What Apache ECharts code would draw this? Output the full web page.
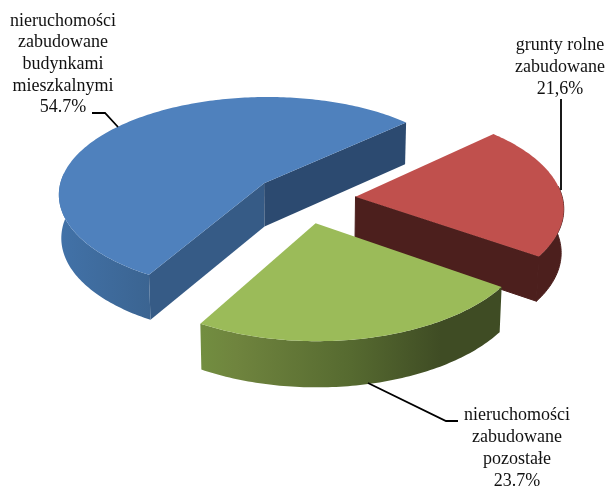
<!DOCTYPE html>
<html>
<head>
<meta charset="utf-8">
<style>html,body{margin:0;padding:0;background:#fff}#c{width:608px;height:486px}</style>
<script src="https://cdn.jsdelivr.net/npm/echarts@6/dist/echarts.min.js"></script>
</head>
<body>
<div id="c"></div>
<script>
// ---- data ----
const categories = [
  'nieruchomości\nzabudowane\nbudynkami\nmieszkalnymi',
  'grunty rolne\nzabudowane',
  'nieruchomości\nzabudowane\npozostałe'
];
const values = [54.7, 21.6, 23.7];
const valueLabels = ['54.7%', '21,6%', '23.7%'];

// ---- styles ----
const topColors = ['#4f81bd', '#c0504d', '#9bbb59'];
const startFaceColors = ['#365b86', null, null];
const endFaceColors = ['#2c4a70', null, null];
const frontFaceColors = [null, '#4c1f1d', null];
const wallStops = [
  [[0, '#4272a8'], [1, '#3b6491']],
  [[0, '#4c1f1d'], [1, '#4c1f1d']],
  [[0, '#728e40'], [0.12, '#6f843e'], [0.5, '#566a30'], [0.8, '#3f4c24'], [1, '#3f4c24']]
];

// ---- layout of the projected pie (camera model) ----
const view = { cx: 304, cy: 198.5, rx: 207, ry: 99, perspX: 0.1, perspY: 0.11, depth: 43.5, depthGrow: 0.05, bottomScale: 0.99, explode: 0.25, startDeg: 120 };
const labelLayout = [
  { x: 63, y: 10, lh: 21.7 },
  { x: 560, y: 34, lh: 22 },
  { x: 517, y: 404, lh: 22 }
];
const leaderLayout = [
  [[92, 113], [105, 113], [118, 127]],
  [[561, 99], [561, 190]],
  [[368, 383], [446, 421], [458, 421]]
];
const FONT = '"Liberation Serif","Times New Roman",serif';
const rad = d => d * Math.PI / 180;

function sliceAngles(i) {
  const total = values.reduce((a, b) => a + b, 0);
  let s = view.startDeg;
  for (let k = 0; k < i; k++) s += values[k] / total * 360;
  return [s, s + values[i] / total * 360];
}
// plane coordinates of the slice's tip, pushed out along its bisector
function tipOf(a0, a1) {
  const m = rad((a0 + a1) / 2);
  return [view.explode * Math.cos(m), view.explode * Math.sin(m)];
}
function rimPlane(tip, deg) {
  const t = rad(deg);
  return [tip[0] + Math.cos(t), tip[1] + Math.sin(t)];
}
function topPoint(q) {
  return [view.cx + view.rx * q[0] / (1 - view.perspX * q[1]),
          view.cy + view.ry * q[1] / (1 - view.perspY * q[1])];
}
function bottomPoint(q) {
  const p = topPoint(q);
  return [view.cx + (p[0] - view.cx) * view.bottomScale,
          p[1] + view.depth * (1 + view.depthGrow * q[1])];
}
function arcPlane(tip, a, b) {
  const pts = [];
  const n = Math.max(2, Math.ceil(Math.abs(b - a)));
  for (let i = 0; i <= n; i++) pts.push(rimPlane(tip, a + (b - a) * i / n));
  return pts;
}
function poly(points, fill, seam) {
  const style = { fill };
  if (seam) { style.stroke = seam; style.lineWidth = 1; }
  return { type: 'polygon', shape: { points }, style, silent: true };
}
function face(tip, deg, color, seam) {
  const e = rimPlane(tip, deg);
  return poly([topPoint(tip), topPoint(e), bottomPoint(e), bottomPoint(tip)], color, seam);
}

function renderItem(params, api) {
  const i = params.dataIndex;
  const [a0, a1] = sliceAngles(i);
  const tip = tipOf(a0, a1);
  const kids = [];
  if (startFaceColors[i]) kids.push(face(tip, a0, startFaceColors[i]));
  if (endFaceColors[i]) kids.push(face(tip, a1, endFaceColors[i]));
  if (frontFaceColors[i]) kids.push(face(tip, a1, frontFaceColors[i], frontFaceColors[i]));

  // outer wall: only the near half of the rim faces the viewer
  let w0 = a0, w1 = a1;
  while (w0 > 180) { w0 -= 360; w1 -= 360; }
  const from = Math.max(w0, -6), to = Math.min(w1, 186);
  if (to > from) {
    const rimPts = arcPlane(tip, from, to);
    const fill = new echarts.graphic.LinearGradient(0, 0, 1, 0,
      wallStops[i].map(s => ({ offset: s[0], color: s[1] })));
    kids.push(poly(rimPts.map(topPoint).concat(rimPts.map(bottomPoint).reverse()), fill, frontFaceColors[i]));
  }

  // top face
  kids.push(poly([topPoint(tip)].concat(arcPlane(tip, a0, a1).map(topPoint)), topColors[i]));

  // leader line and label
  kids.push({ type: 'polyline', shape: { points: leaderLayout[i] }, style: { stroke: '#000', lineWidth: 1.8, fill: null }, silent: true });
  const L = labelLayout[i];
  kids.push({
    type: 'text', silent: true,
    style: { x: L.x, y: L.y, text: categories[i] + '\n' + valueLabels[i], fill: '#111', font: '18px ' + FONT, align: 'center', verticalAlign: 'top', lineHeight: L.lh }
  });
  return { type: 'group', children: kids };
}

const chart = echarts.init(document.getElementById('c'), null, { renderer: 'canvas', width: 608, height: 486 });
chart.setOption({
  backgroundColor: '#fff',
  animation: false,
  series: [{
    type: 'custom',
    coordinateSystem: 'none',
    renderItem,
    data: values.map((v, i) => ({ name: categories[i], value: [v] }))
  }]
});
</script>
</body>
</html>
